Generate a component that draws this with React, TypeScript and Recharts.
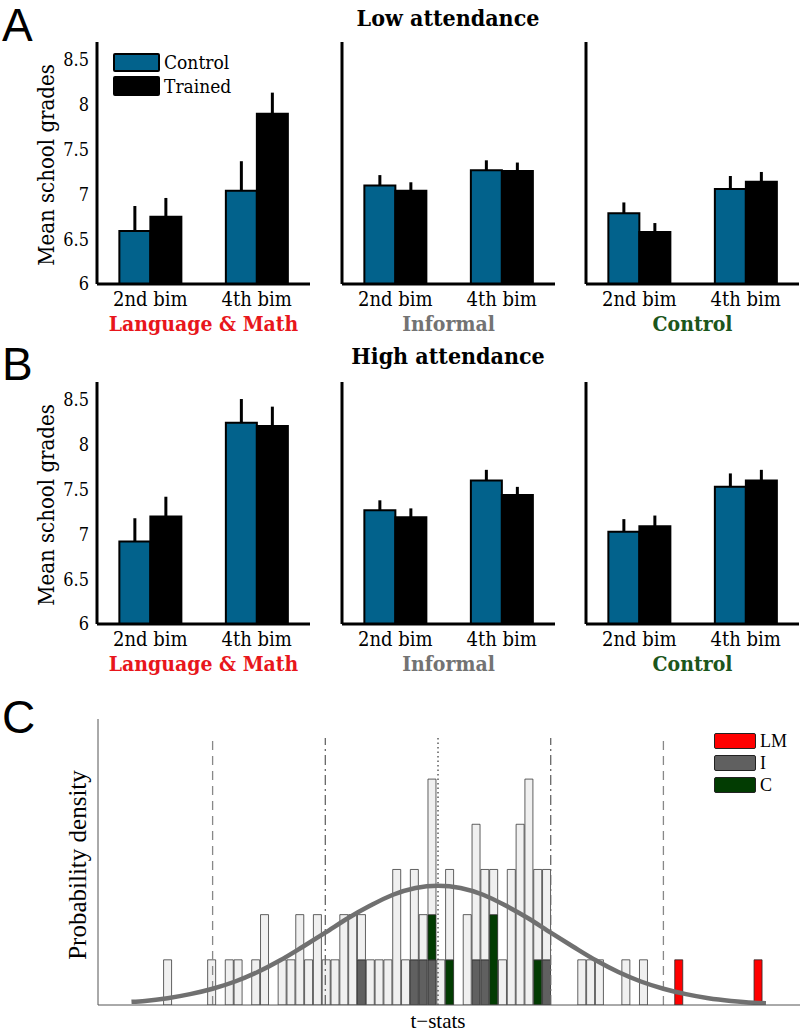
import React from "react";
import { BarChart, Bar, XAxis, YAxis, ErrorBar, ComposedChart, Line, ReferenceLine } from "recharts";

// ---- panels A / B: mean school grades ----
const bims = ["2nd bim", "4th bim"];
const groups = ["Language & Math", "Informal", "Control"];
const groupColors = ["#e8161b", "#737373", "#1b561b"];
const gradeTicks = [6, 6.5, 7, 7.5, 8, 8.5];

// order: LM 2nd, LM 4th, I 2nd, I 4th, C 2nd, C 4th
const lowControl = [6.59, 7.04, 7.1, 7.27, 6.79, 7.06];
const lowControlErr = [0.28, 0.33, 0.115, 0.11, 0.12, 0.145];
const lowTrained = [6.75, 7.9, 7.04, 7.26, 6.58, 7.14];
const lowTrainedErr = [0.21, 0.235, 0.095, 0.095, 0.1, 0.11];
const highControl = [6.92, 8.245, 7.27, 7.6, 7.03, 7.53];
const highControlErr = [0.26, 0.265, 0.11, 0.12, 0.14, 0.15];
const highTrained = [7.2, 8.21, 7.19, 7.44, 7.09, 7.6];
const highTrainedErr = [0.22, 0.215, 0.1, 0.09, 0.12, 0.12];

// ---- panel C: histogram of t-stats ----
const T0 = -2.396; // centre of first bin
const BINW = 0.0782;
const binIndex = [0, 5, 7, 8, 10, 11, 13, 14, 15, 16, 17, 18, 19, 20, 21, 22, 23, 24, 25, 26, 27, 28, 29, 30, 31, 32, 34, 35, 36, 37, 38, 39, 40, 41, 42, 43, 47, 48, 49, 52, 54, 58, 67];
const binTotal = [1, 1, 1, 1, 1, 2, 1, 1, 2, 1, 2, 1, 1, 2, 2, 2, 1, 1, 1, 3, 1, 3, 2, 5, 1, 3, 2, 4, 3, 3, 1, 3, 4, 5, 3, 3, 1, 1, 1, 1, 1, 1, 1];
const informalBins = [22, 28, 29, 30, 35, 36, 43];
const controlBins = [30, 32, 37, 37, 42];
const lmBins = [58, 67];
const sdLines = [-2, -1, 0, 1, 2];

const curveT = [-2.72, -2.6, -2.4, -2.2, -2.0, -1.8, -1.6, -1.4, -1.2, -1.0, -0.8, -0.6, -0.4, -0.2, 0, 0.2, 0.4, 0.6, 0.8, 1.0, 1.2, 1.4, 1.6, 1.8, 2.0, 2.2, 2.4, 2.6, 2.8, 2.91];
const curveY = [0.07, 0.09, 0.15, 0.24, 0.36, 0.52, 0.73, 0.99, 1.29, 1.6, 1.92, 2.2, 2.44, 2.59, 2.64, 2.59, 2.44, 2.2, 1.92, 1.6, 1.29, 0.99, 0.73, 0.52, 0.36, 0.24, 0.15, 0.09, 0.05, 0.04];

const SERIF_C = "'DejaVu Serif Condensed', 'DejaVu Serif', serif";
const TIMES = "'Liberation Serif', 'Times New Roman', serif";
const BLUE = "#02628c";

const count = (arr: number[], k: number) => arr.filter((v) => v === k).length;

const histRows = binIndex.map((k, i) => {
  const inf = count(informalBins, k);
  const ctl = count(controlBins, k);
  const lm = count(lmBins, k);
  return { t: T0 + k * BINW, inf, ctl, lm, rest: binTotal[i] - inf - ctl - lm };
});
const curveRows = curveT.map((t, i) => ({ t, d: curveY[i] }));

function rowsFor(ctl: number[], ctlErr: number[], tr: number[], trErr: number[], g: number) {
  return bims.map((bim, j) => ({
    bim,
    control: ctl[g * 2 + j],
    controlErr: [0, ctlErr[g * 2 + j]],
    trained: tr[g * 2 + j],
    trainedErr: [0, trErr[g * 2 + j]],
  }));
}

const abs = (l: number, t: number): React.CSSProperties => ({ position: "absolute", left: l, top: t });

function GradePanel({ rows, g, left, top }: { rows: any[]; g: number; left: number; top: number }) {
  return (
    <div style={abs(left - 60, top - 10)}>
      <BarChart width={283} height={307} data={rows} margin={{ top: 10, right: 10, left: 0, bottom: 5 }} barCategoryGap="21%" barGap={0}>
        <XAxis
          dataKey="bim"
          interval={0}
          height={50}
          axisLine={{ stroke: "#000", strokeWidth: 3 }}
          tickLine={false}
          tick={{ fill: "#000", fontSize: 20, fontFamily: SERIF_C }}
          label={{ value: groups[g], position: "insideBottom", offset: 3, fill: groupColors[g], fontSize: 21, fontWeight: "bold", fontFamily: SERIF_C }}
        />
        <YAxis
          domain={[6, 8.7]}
          ticks={gradeTicks}
          allowDataOverflow
          width={60}
          axisLine={{ stroke: "#000", strokeWidth: 3 }}
          tickLine={false}
          tick={g === 0 ? { fill: "#000", fontSize: 18, fontFamily: SERIF_C } : false}
        />
        <Bar dataKey="control" fill={BLUE} stroke="#000" strokeWidth={2} isAnimationActive={false}>
          <ErrorBar dataKey="controlErr" direction="y" width={0} stroke="#000" strokeWidth={3} />
        </Bar>
        <Bar dataKey="trained" fill="#000" stroke="#000" strokeWidth={2} isAnimationActive={false}>
          <ErrorBar dataKey="trainedErr" direction="y" width={0} stroke="#000" strokeWidth={3} />
        </Bar>
      </BarChart>
    </div>
  );
}

function Centered({ x, y, children, style }: { x: number; y: number; children: React.ReactNode; style?: React.CSSProperties }) {
  return (
    <div style={{ position: "absolute", left: x, top: y, transform: "translate(-50%, -50%)", whiteSpace: "nowrap", lineHeight: 1, ...style }}>
      {children}
    </div>
  );
}

function Swatch({ x, y, w, h, color, label, border, font, size }: any) {
  return (
    <div style={{ ...abs(x, y), display: "flex", alignItems: "center", whiteSpace: "nowrap" }}>
      <div style={{ width: w, height: h, background: color, border, borderRadius: 2, boxSizing: "border-box" }} />
      <span style={{ marginLeft: 4, fontFamily: font, fontSize: size, lineHeight: 1 }}>{label}</span>
    </div>
  );
}

export default function App() {
  const lefts = [97, 342, 586];
  return (
    <div style={{ position: "absolute", left: 0, top: 0, width: 806, height: 1034, background: "#fff", color: "#000", overflow: "hidden" }}>
      <div style={{ ...abs(2, 2), fontFamily: "'Liberation Sans', Arial, sans-serif", fontSize: 46, lineHeight: 1 }}>A</div>
      <div style={{ ...abs(2, 341), fontFamily: "'Liberation Sans', Arial, sans-serif", fontSize: 46, lineHeight: 1 }}>B</div>
      <div style={{ ...abs(2, 694), fontFamily: "'Liberation Sans', Arial, sans-serif", fontSize: 46, lineHeight: 1 }}>C</div>

      <Centered x={448} y={17} style={{ fontFamily: SERIF_C, fontWeight: "bold", fontSize: 23 }}>Low attendance</Centered>
      <Centered x={448} y={355} style={{ fontFamily: SERIF_C, fontWeight: "bold", fontSize: 23 }}>High attendance</Centered>

      <Centered x={47} y={165} style={{ fontFamily: SERIF_C, fontSize: 22, transform: "translate(-50%, -50%) rotate(-90deg)" }}>Mean school grades</Centered>
      <Centered x={47} y={505} style={{ fontFamily: SERIF_C, fontSize: 22, transform: "translate(-50%, -50%) rotate(-90deg)" }}>Mean school grades</Centered>

      {groups.map((_, g) => (
        <GradePanel key={"low" + g} rows={rowsFor(lowControl, lowControlErr, lowTrained, lowTrainedErr, g)} g={g} left={lefts[g]} top={42} />
      ))}
      {groups.map((_, g) => (
        <GradePanel key={"high" + g} rows={rowsFor(highControl, highControlErr, highTrained, highTrainedErr, g)} g={g} left={lefts[g]} top={382} />
      ))}

      <Swatch x={113} y={53} w={47} h={19} color={BLUE} label="Control" border="2.5px solid #000" font={SERIF_C} size={19} />
      <Swatch x={113} y={76} w={47} h={20} color="#000" label="Trained" border="2.5px solid #000" font={SERIF_C} size={19} />

      <div style={abs(0, 700)}>
        <ComposedChart width={806} height={334} data={histRows} margin={{ top: 19, right: 6, left: 0, bottom: 0 }}>
          <XAxis dataKey="t" type="number" domain={[-3.017, 3.212]} allowDataOverflow height={29} ticks={[]} tickLine={false} axisLine={{ stroke: "#555", strokeWidth: 1 }} />
          <XAxis xAxisId="curve" dataKey="t" type="number" domain={[-3.017, 3.212]} allowDataOverflow hide />
          <YAxis domain={[0, 6.33]} ticks={[0, 2.11, 4.22, 6.33]} allowDataOverflow width={98} tick={false} tickSize={-7} tickLine={{ stroke: "#666" }} axisLine={{ stroke: "#555", strokeWidth: 1 }} />
          <Bar dataKey="inf" stackId="h" barSize={8} fill="#606060" stroke="#2a2a2a" strokeWidth={0.8} isAnimationActive={false} />
          <Bar dataKey="ctl" stackId="h" barSize={8} fill="#023c02" stroke="#2a2a2a" strokeWidth={0.8} isAnimationActive={false} />
          <Bar dataKey="lm" stackId="h" barSize={8} fill="#ff0000" stroke="#2a2a2a" strokeWidth={0.8} isAnimationActive={false} />
          <Bar dataKey="rest" stackId="h" barSize={8} fill="#f0f0f0" stroke="#3a3a3a" strokeWidth={0.8} isAnimationActive={false} />
          {sdLines.map((s) => (
            <ReferenceLine
              key={s}
              segment={[{ x: s, y: 0 }, { x: s, y: 5.91 }]}
              stroke={s === 0 ? "#444" : Math.abs(s) === 1 ? "#666" : "#888"}
              strokeWidth={1.3}
              strokeDasharray={s === 0 ? "1.5 3" : Math.abs(s) === 1 ? "10 4 2 4" : "9 6"}
            />
          ))}
          <Line xAxisId="curve" data={curveRows} dataKey="d" type="monotone" stroke="#707070" strokeWidth={4.5} dot={false} isAnimationActive={false} />
        </ComposedChart>
      </div>

      <Centered x={77} y={865} style={{ fontFamily: TIMES, fontSize: 25, transform: "translate(-50%, -50%) rotate(-90deg)" }}>Probability density</Centered>
      <Centered x={438} y={1021} style={{ fontFamily: TIMES, fontSize: 21 }}>t−stats</Centered>

      <Swatch x={714} y={732} w={42} h={16} color="#ff0000" label="LM" border="1px solid #222" font={TIMES} size={18} />
      <Swatch x={714} y={754} w={42} h={16} color="#606060" label="I" border="1px solid #222" font={TIMES} size={18} />
      <Swatch x={714} y={776} w={42} h={16} color="#023c02" label="C" border="1px solid #222" font={TIMES} size={18} />
    </div>
  );
}
